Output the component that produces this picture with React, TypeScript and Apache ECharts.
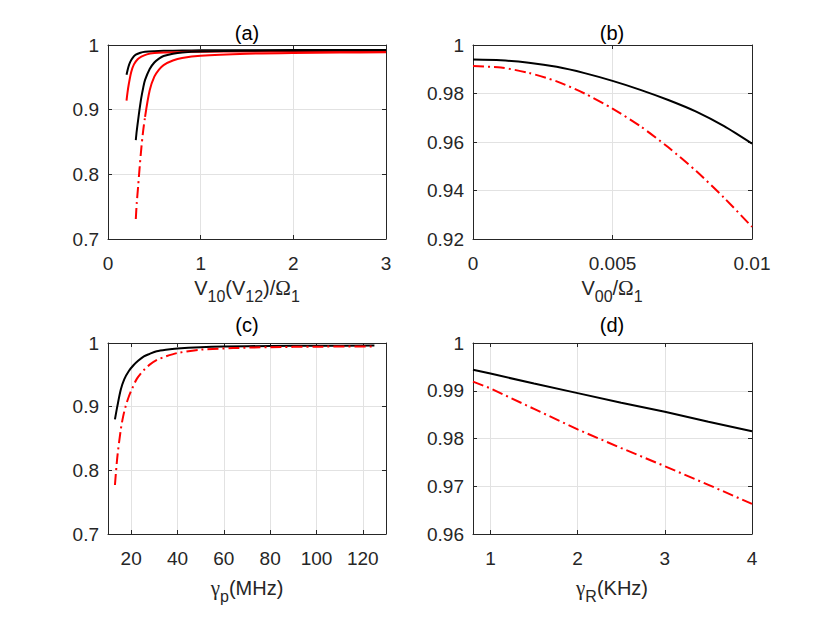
import React, { useEffect, useRef } from "react";
import * as echarts from "echarts";

// ---------- Panel (a) ----------
const aBlackTopX = [0.2, 0.22, 0.24, 0.27, 0.3, 0.35, 0.4, 0.5, 0.6, 0.8, 1, 1.5, 2, 3];
const aBlackTopY = [0.954, 0.966, 0.974, 0.981, 0.985, 0.988, 0.9895, 0.9905, 0.991, 0.9915, 0.9917, 0.992, 0.9921, 0.9922];
const aRedTopX = [0.2, 0.21, 0.225, 0.25, 0.28, 0.32, 0.36, 0.42, 0.5, 0.6, 0.8, 1, 1.5, 2, 3];
const aRedTopY = [0.914, 0.926, 0.94, 0.958, 0.97, 0.978, 0.982, 0.9855, 0.9875, 0.9885, 0.9893, 0.9897, 0.99, 0.9901, 0.9902];
const aBlackLowX = [0.3, 0.31, 0.325, 0.34, 0.36, 0.38, 0.4, 0.45, 0.5, 0.55, 0.6, 0.7, 0.8, 1, 1.5, 2, 3];
const aBlackLowY = [0.853, 0.867, 0.884, 0.9, 0.919, 0.934, 0.946, 0.963, 0.973, 0.979, 0.983, 0.9865, 0.9885, 0.99, 0.9912, 0.9916, 0.992];
const aRedLowDashX = [0.3, 0.31, 0.325, 0.34, 0.36, 0.38, 0.4];
const aRedLowDashY = [0.731, 0.755, 0.781, 0.808, 0.841, 0.868, 0.889];
const aRedLowSolidX = [0.4, 0.45, 0.5, 0.55, 0.6, 0.7, 0.8, 1, 1.5, 2, 2.5, 3];
const aRedLowSolidY = [0.889, 0.93, 0.951, 0.962, 0.969, 0.976, 0.98, 0.9835, 0.9865, 0.9878, 0.9884, 0.9888];

// ---------- Panel (b) ----------
const bX = [0, 0.001, 0.002, 0.003, 0.004, 0.005, 0.006, 0.007, 0.008, 0.009, 0.01];
const bBlackY = [0.994, 0.9937, 0.9927, 0.991, 0.9884, 0.9852, 0.9815, 0.9773, 0.9725, 0.9665, 0.9593];
const bRedY = [0.9913, 0.9907, 0.9885, 0.985, 0.98, 0.9738, 0.9665, 0.9578, 0.948, 0.937, 0.925];

// ---------- Panel (c) ----------
const cBlackX = [13, 14, 15.5, 17, 19, 21, 23, 25.5, 28, 31, 35, 40, 50, 60, 80, 100, 125];
const cBlackY = [0.88, 0.9, 0.9265, 0.943, 0.956, 0.965, 0.972, 0.979, 0.983, 0.987, 0.9895, 0.9915, 0.9935, 0.9945, 0.9953, 0.9957, 0.996];
const cRedX = [13, 14, 15.5, 16.5, 17.6, 19, 20.5, 22.5, 25.6, 28, 31.3, 35, 40, 50, 64, 80, 100, 125];
const cRedY = [0.777, 0.82, 0.8636, 0.884, 0.9003, 0.916, 0.929, 0.944, 0.958, 0.966, 0.9737, 0.979, 0.9843, 0.9895, 0.992, 0.9935, 0.9942, 0.9947];

// ---------- Panel (d) ----------
const dX = [0.8, 1, 1.5, 2, 2.5, 3, 3.5, 4];
const dBlackY = [0.9944, 0.9936, 0.9915, 0.9895, 0.9875, 0.9856, 0.9835, 0.9815];
const dRedY = [0.9919, 0.9905, 0.9862, 0.9819, 0.978, 0.9742, 0.9703, 0.9663];

// ---------- Tick labels ----------
const cXTicks = [20, 40, 60, 80, 100, 120];
const dXTicks = [1, 2, 3, 4];

const FONT = '"Liberation Sans", Arial, Helvetica, sans-serif';
const SERIF = '"Liberation Serif", "DejaVu Serif", serif';
const AX = "#262626";
const GRIDC = "#e2e2e2";
const DASHDOT = [11, 4, 2, 4];

function pairs(xs: number[], ys: number[]) {
  return xs.map((x, i) => [x, ys[i]]);
}

type AxisSpec = { min: number; max: number; interval?: number; custom?: number[] };

function makeAxes(dim: "x" | "y", gridIndex: number, spec: AxisSpec) {
  const base = {
    type: "value",
    gridIndex,
    min: spec.min,
    max: spec.max,
    ...(spec.interval !== undefined ? { interval: spec.interval } : {}),
    axisLine: { show: true, onZero: false, lineStyle: { color: AX, width: 1 } },
  };
  const tick = {
    show: true,
    inside: true,
    length: 4,
    lineStyle: { color: AX, width: 1 },
    ...(spec.custom ? { customValues: spec.custom } : {}),
  };
  const main = {
    ...base,
    position: dim === "x" ? "bottom" : "left",
    axisTick: tick,
    axisLabel: {
      show: true,
      color: AX,
      fontSize: 19,
      fontFamily: FONT,
      margin: dim === "x" ? 15 : 9,
      showMinLabel: true,
      showMaxLabel: true,
      ...(spec.custom ? { customValues: spec.custom } : {}),
    },
    splitLine: { show: true, lineStyle: { color: GRIDC, width: 1 } },
  };
  const mirror = {
    ...base,
    position: dim === "x" ? "top" : "right",
    axisTick: tick,
    axisLabel: { show: false, ...(spec.custom ? { customValues: spec.custom } : {}) },
    splitLine: { show: false },
  };
  return [main, mirror];
}

function line(grid: number, data: number[][], color: string, dashed: boolean, smooth: number | boolean) {
  return {
    type: "line",
    xAxisIndex: grid * 2,
    yAxisIndex: grid * 2,
    data,
    showSymbol: false,
    symbol: "none",
    smooth,
    lineStyle: { color, width: 2, type: dashed ? DASHDOT : "solid" },
    z: 3,
  };
}

function richName(text: string, x: number, y: number) {
  return {
    type: "text",
    x,
    y,
    style: {
      text,
      align: "center",
      verticalAlign: "top",
      fill: AX,
      font: `20px ${FONT}`,
      rich: {
        m: { font: `20px ${FONT}`, height: 20, verticalAlign: "top", fill: AX },
        s: { font: `16px ${FONT}`, height: 37, verticalAlign: "top", fill: AX },
        g: { font: `21px ${SERIF}`, height: 20, verticalAlign: "top", fill: AX },
      },
    },
  };
}

function title(text: string, x: number, y: number) {
  return {
    type: "text",
    x,
    y,
    style: {
      text,
      align: "center",
      verticalAlign: "middle",
      fill: "#000",
      font: `20px ${FONT}`,
    },
  };
}

export default function App() {
  const ref = useRef<HTMLDivElement>(null);
  useEffect(() => {
    if (!ref.current) return;
    const chart = echarts.init(ref.current, undefined, { renderer: "svg" });
    const xAxes = [
      ...makeAxes("x", 0, { min: 0, max: 3, interval: 1 }),
      ...makeAxes("x", 1, { min: 0, max: 0.01, interval: 0.005 }),
      ...makeAxes("x", 2, { min: 10, max: 130, custom: cXTicks }),
      ...makeAxes("x", 3, { min: 0.8, max: 4, custom: dXTicks }),
    ];
    const yAxes = [
      ...makeAxes("y", 0, { min: 0.7, max: 1, interval: 0.1 }),
      ...makeAxes("y", 1, { min: 0.92, max: 1, interval: 0.02 }),
      ...makeAxes("y", 2, { min: 0.7, max: 1, interval: 0.1 }),
      ...makeAxes("y", 3, { min: 0.96, max: 1, interval: 0.01 }),
    ];
    chart.setOption({
      animation: false,
      backgroundColor: "#ffffff",
      grid: [
        { left: 108, top: 45, width: 278, height: 194 },
        { left: 473, top: 45, width: 279, height: 194 },
        { left: 108, top: 343, width: 278, height: 191 },
        { left: 473, top: 343, width: 279, height: 191 },
      ],
      xAxis: xAxes,
      yAxis: yAxes,
      series: [
        line(0, pairs(aBlackTopX, aBlackTopY), "#000000", false, 0.3),
        line(0, pairs(aRedTopX, aRedTopY), "#ff0000", false, 0.3),
        line(0, pairs(aBlackLowX, aBlackLowY), "#000000", false, 0.3),
        line(0, pairs(aRedLowDashX, aRedLowDashY), "#ff0000", true, 0.3),
        line(0, pairs(aRedLowSolidX, aRedLowSolidY), "#ff0000", false, 0.3),
        line(1, pairs(bX, bBlackY), "#000000", false, 0.25),
        line(1, pairs(bX, bRedY), "#ff0000", true, 0.25),
        line(2, pairs(cBlackX, cBlackY), "#000000", false, 0.3),
        line(2, pairs(cRedX, cRedY), "#ff0000", true, 0.3),
        line(3, pairs(dX, dBlackY), "#000000", false, false),
        line(3, pairs(dX, dRedY), "#ff0000", true, false),
      ],
      graphic: [
        title("(a)", 247, 32.5),
        title("(b)", 612, 32.5),
        title("(c)", 247, 325),
        title("(d)", 612, 325),
        richName("{m|V}{s|10}{m|(V}{s|12}{m|)/}{g|Ω}{s|1}", 247, 278),
        richName("{m|V}{s|00}{m|/}{g|Ω}{s|1}", 612, 278),
        richName("{g|γ}{s|p}{m|(MHz)}", 247, 578),
        richName("{g|γ}{s|R}{m|(KHz)}", 612, 578),
      ],
    });
    return () => chart.dispose();
  }, []);
  return (
    <div
      ref={ref}
      style={{ position: "fixed", left: 0, top: 0, width: 830, height: 623, background: "#fff" }}
    />
  );
}
